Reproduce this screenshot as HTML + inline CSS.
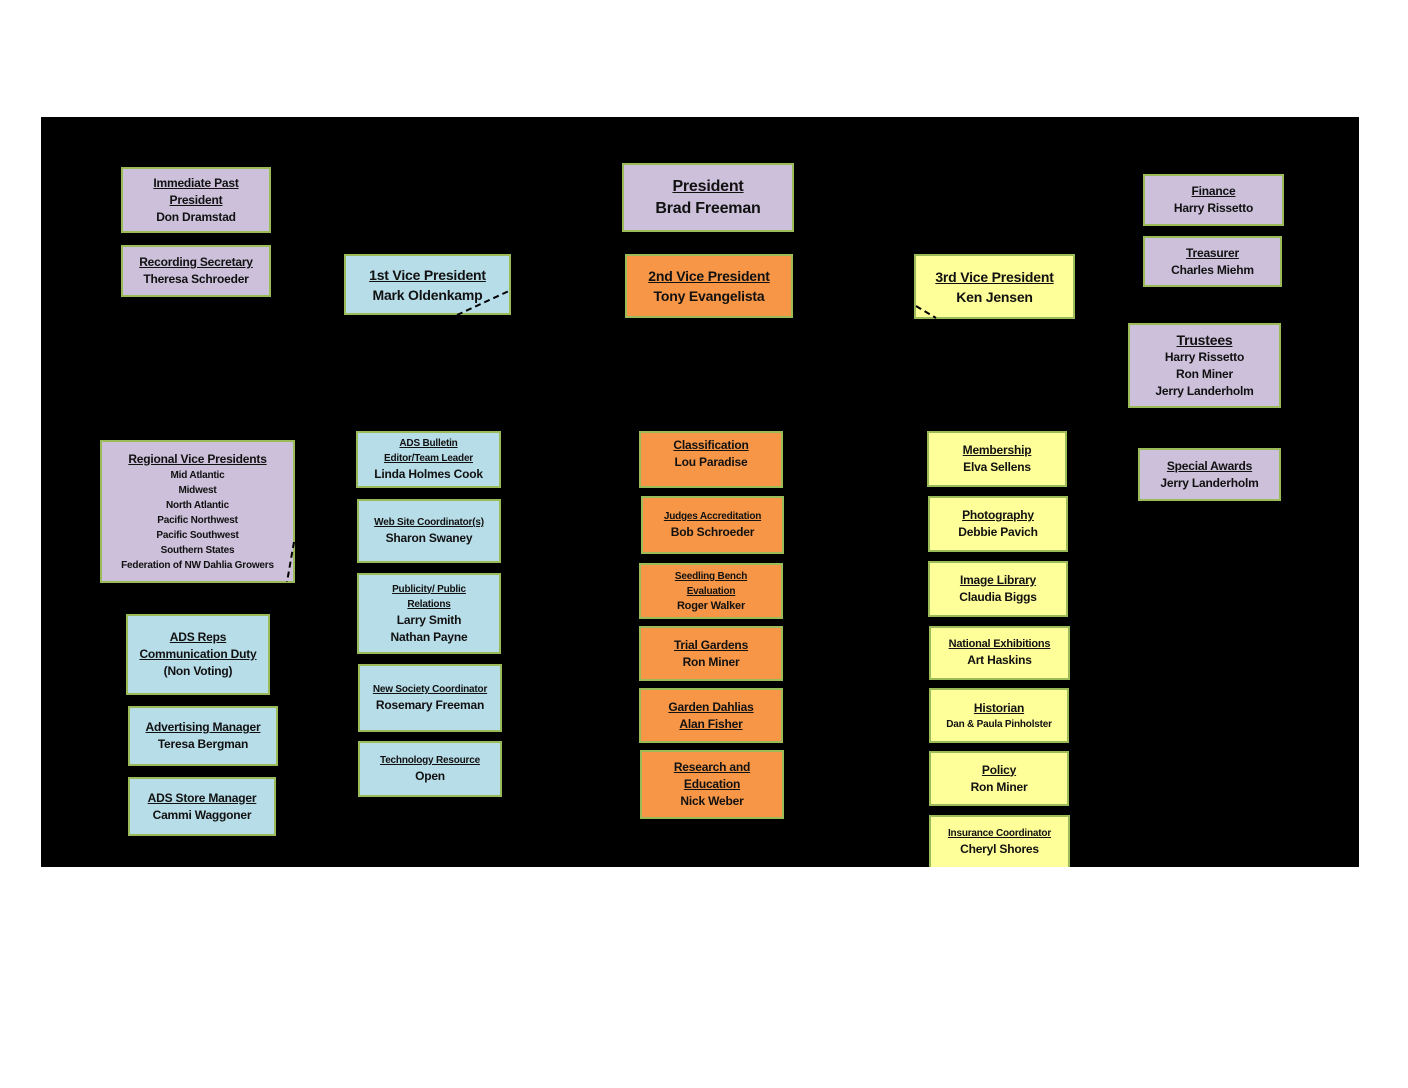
<!DOCTYPE html>
<html><head><meta charset="utf-8"><style>
body{margin:0;width:1408px;height:1088px;background:#fff;position:relative;overflow:hidden;font-family:"Liberation Sans",sans-serif;}
#bg{position:absolute;left:41px;top:117px;width:1318px;height:750px;background:#000;overflow:hidden}
.b{position:absolute;box-sizing:border-box;border:2px solid #9bbb59;display:flex;flex-direction:column;justify-content:center;align-items:center;text-align:center;font-weight:bold;font-size:12px;line-height:17px;color:#111;letter-spacing:-0.2px}
.l{background:#ccc0da}.c{background:#b7dde8}.o{background:#f79646}.y{background:#ffff99}
u{text-decoration:underline}
.s{font-size:10px;line-height:15px}
.m{font-size:14px;line-height:20px}
.t{justify-content:flex-start;padding-top:4px}
#ov{position:absolute;left:0;top:0;z-index:5;pointer-events:none}
</style></head><body>
<div id="bg"></div>
<div class="b l" style="left:121px;top:167px;width:150px;height:66px"><u>Immediate Past</u><u>President</u>Don Dramstad</div>
<div class="b l" style="left:121px;top:245px;width:150px;height:52px"><u>Recording Secretary</u>Theresa Schroeder</div>
<div class="b l" style="left:622px;top:163px;width:172px;height:69px;font-size:16px;line-height:22px"><u>President</u>Brad Freeman</div>
<div class="b l" style="left:1143px;top:174px;width:141px;height:52px"><u>Finance</u>Harry Rissetto</div>
<div class="b l" style="left:1143px;top:236px;width:139px;height:51px"><u>Treasurer</u>Charles Miehm</div>
<div class="b l" style="left:1128px;top:323px;width:153px;height:85px"><u style="font-size:14px;line-height:18px">Trustees</u>Harry Rissetto<br>Ron Miner<br>Jerry Landerholm</div>
<div class="b l" style="left:1138px;top:448px;width:143px;height:53px"><u>Special Awards</u>Jerry Landerholm</div>
<div class="b l" style="left:100px;top:440px;width:195px;height:143px"><span style="font-size:12px;line-height:17px"><u>Regional Vice Presidents</u></span><span class="s">Mid Atlantic<br>Midwest<br>North Atlantic<br>Pacific Northwest<br>Pacific Southwest<br>Southern States<br>Federation of NW Dahlia Growers</span></div>

<div class="b c m" style="left:344px;top:254px;width:167px;height:61px"><u>1st Vice President</u>Mark Oldenkamp</div>
<div class="b c" style="left:356px;top:431px;width:145px;height:57px"><span class="s"><u>ADS Bulletin</u><br><u>Editor/Team Leader</u></span>Linda Holmes Cook</div>
<div class="b c" style="left:357px;top:499px;width:144px;height:64px"><span class="s"><u>Web Site Coordinator(s)</u></span>Sharon Swaney</div>
<div class="b c" style="left:357px;top:573px;width:144px;height:81px"><span class="s"><u>Publicity/ Public</u><br><u>Relations</u></span>Larry Smith<br>Nathan Payne</div>
<div class="b c" style="left:358px;top:664px;width:144px;height:68px"><span class="s"><u>New Society Coordinator</u></span>Rosemary Freeman</div>
<div class="b c" style="left:358px;top:741px;width:144px;height:56px"><span class="s"><u>Technology Resource</u></span>Open</div>
<div class="b c" style="left:126px;top:614px;width:144px;height:81px"><u>ADS Reps</u><u>Communication Duty</u>(Non Voting)</div>
<div class="b c" style="left:128px;top:706px;width:150px;height:60px"><u>Advertising Manager</u>Teresa Bergman</div>
<div class="b c" style="left:128px;top:777px;width:148px;height:59px"><u>ADS Store Manager</u>Cammi Waggoner</div>

<div class="b o m" style="left:625px;top:254px;width:168px;height:64px"><u>2nd Vice President</u>Tony Evangelista</div>
<div class="b o t" style="left:639px;top:431px;width:144px;height:57px"><u>Classification</u>Lou Paradise</div>
<div class="b o" style="left:641px;top:496px;width:143px;height:58px"><span class="s"><u>Judges Accreditation</u></span>Bob Schroeder</div>
<div class="b o" style="left:639px;top:563px;width:144px;height:56px"><span class="s"><u>Seedling Bench</u><br><u>Evaluation</u></span><span style="font-size:11px;line-height:15px">Roger Walker</span></div>
<div class="b o" style="left:639px;top:626px;width:144px;height:55px"><u>Trial Gardens</u>Ron Miner</div>
<div class="b o" style="left:639px;top:688px;width:144px;height:55px"><u>Garden Dahlias</u><u>Alan Fisher</u></div>
<div class="b o" style="left:640px;top:750px;width:144px;height:69px"><u>Research and</u><u>Education</u>Nick Weber</div>

<div class="b y m" style="left:914px;top:254px;width:161px;height:65px"><u>3rd Vice President</u>Ken Jensen</div>
<div class="b y" style="left:927px;top:431px;width:140px;height:56px"><u>Membership</u>Elva Sellens</div>
<div class="b y" style="left:928px;top:496px;width:140px;height:56px"><u>Photography</u>Debbie Pavich</div>
<div class="b y" style="left:928px;top:561px;width:140px;height:56px"><u>Image Library</u>Claudia Biggs</div>
<div class="b y" style="left:929px;top:626px;width:141px;height:54px"><span style="font-size:11px;line-height:15px"><u>National Exhibitions</u></span>Art Haskins</div>
<div class="b y" style="left:929px;top:688px;width:140px;height:55px"><u>Historian</u><span class="s">Dan &amp; Paula Pinholster</span></div>
<div class="b y" style="left:929px;top:751px;width:140px;height:55px"><u>Policy</u>Ron Miner</div>
<div class="b y" style="left:929px;top:815px;width:141px;height:52px;border-bottom:none"><span class="s"><u>Insurance Coordinator</u></span>Cheryl Shores</div>
<svg id="ov" width="1408" height="1088">
<path d="M457 315 L511 290" stroke="#000" stroke-width="2" stroke-dasharray="6,4" fill="none"/>
<path d="M916 306 L936 318" stroke="#000" stroke-width="2" stroke-dasharray="6,4" fill="none"/>
<path d="M294 542 L287 582" stroke="#000" stroke-width="2" stroke-dasharray="6,4" fill="none"/>
</svg>
</body></html>
